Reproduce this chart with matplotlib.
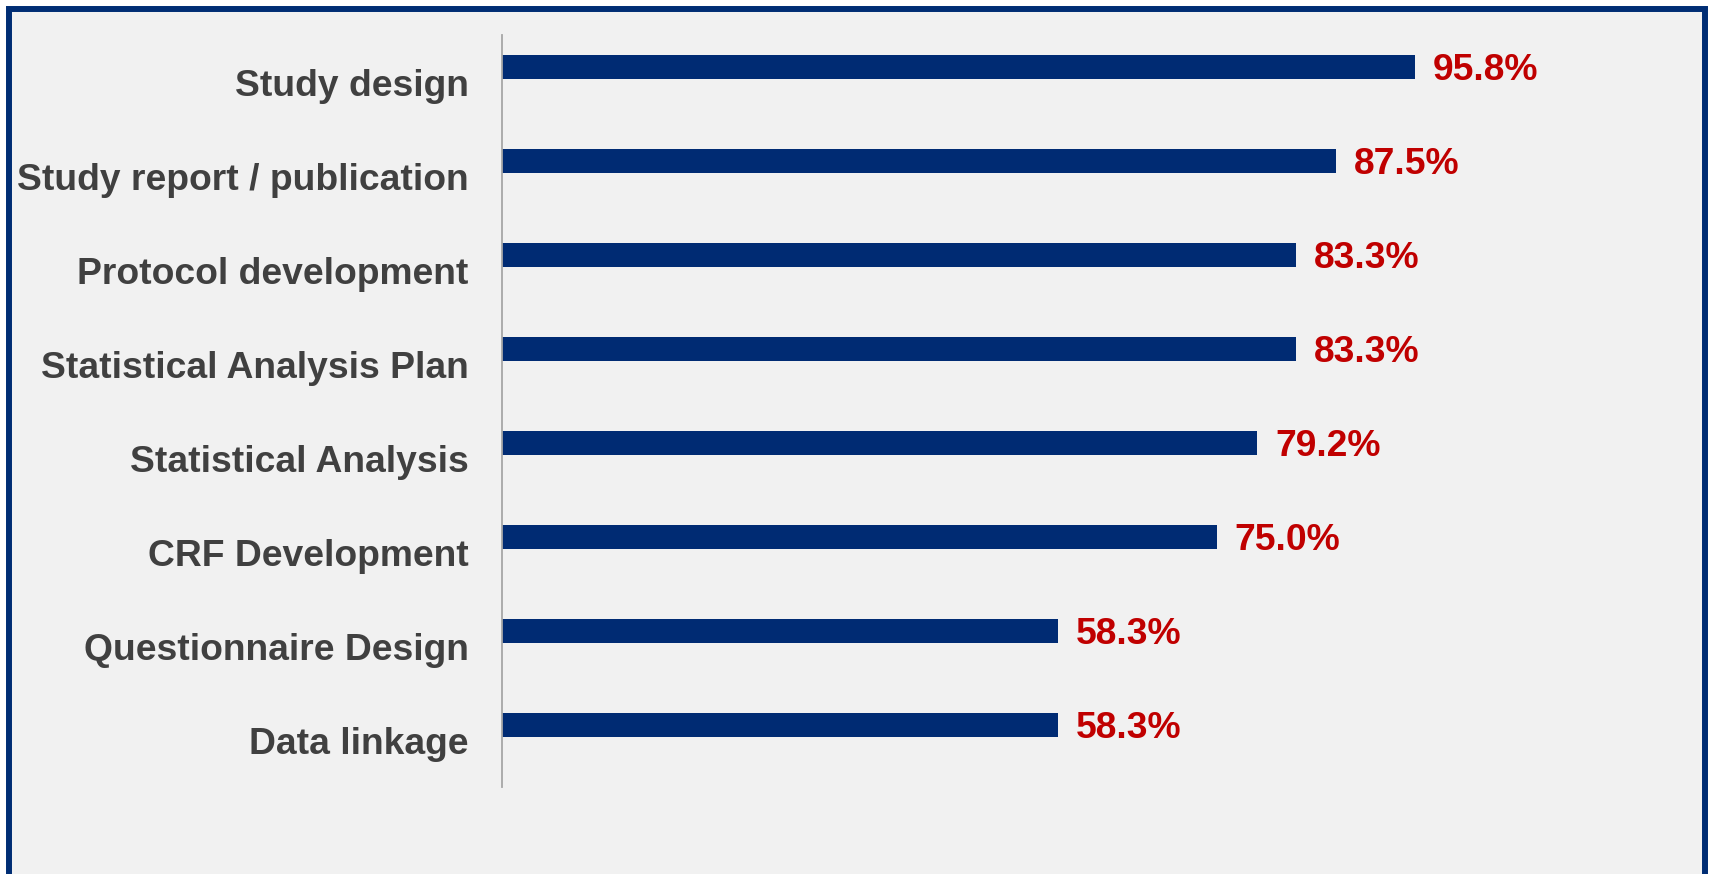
import matplotlib.pyplot as plt
from matplotlib.patches import Rectangle
from matplotlib.transforms import ScaledTranslation

categories = ['Study design', 'Study report / publication', 'Protocol development',
              'Statistical Analysis Plan', 'Statistical Analysis', 'CRF Development',
              'Questionnaire Design', 'Data linkage']
values = [95.8, 87.5, 83.3, 83.3, 79.2, 75.0, 58.3, 58.3]

plt.rcParams['font.family'] = ['Liberation Sans', 'DejaVu Sans']

fig = plt.figure(figsize=(17.1, 8.74), dpi=100, facecolor='white')

# panel with navy frame (runs off the bottom edge)
frame = Rectangle((9 / 1710, -0.05), 1696 / 1710, 1.05 - 9 / 874,
                  transform=fig.transFigure, facecolor='#F1F1F1',
                  edgecolor='#002D74', linewidth=4.3, zorder=-10)
fig.patches.append(frame)

ax = fig.add_axes([502 / 1710, 87 / 874, 953 / 1710, 752 / 874])
ax.set_facecolor('none')
ax.set_zorder(1)

pos = list(range(len(categories)))
ax.barh(pos, values, height=0.255, color='#002B73')

val_shift = ScaledTranslation(0, -0.04, fig.dpi_scale_trans)
for p, v in zip(pos, values):
    ax.text(v + 1.9, p, f'{v:.1f}%', va='center', ha='left',
            fontsize=26.8, fontweight='bold', color='#C00000', clip_on=False,
            transform=ax.transData + val_shift)

ax.set_xlim(0, 100)
ax.set_ylim(7.66, -0.335)
ax.set_yticks(pos)
ax.set_yticklabels(categories, fontsize=26.8, fontweight='bold', color='#404040')
ax.tick_params(axis='y', length=0, pad=24)
ax.set_xticks([])

# labels sit a little below the bar centres
lab_shift = ScaledTranslation(0, -0.155, fig.dpi_scale_trans)
for lab in ax.get_yticklabels():
    lab.set_transform(lab.get_transform() + lab_shift)

for s in ['top', 'right', 'bottom']:
    ax.spines[s].set_visible(False)
ax.spines['left'].set_color('#A6A6A6')
ax.spines['left'].set_linewidth(1.3)

fig.savefig('out.png', dpi=100, facecolor='white')
